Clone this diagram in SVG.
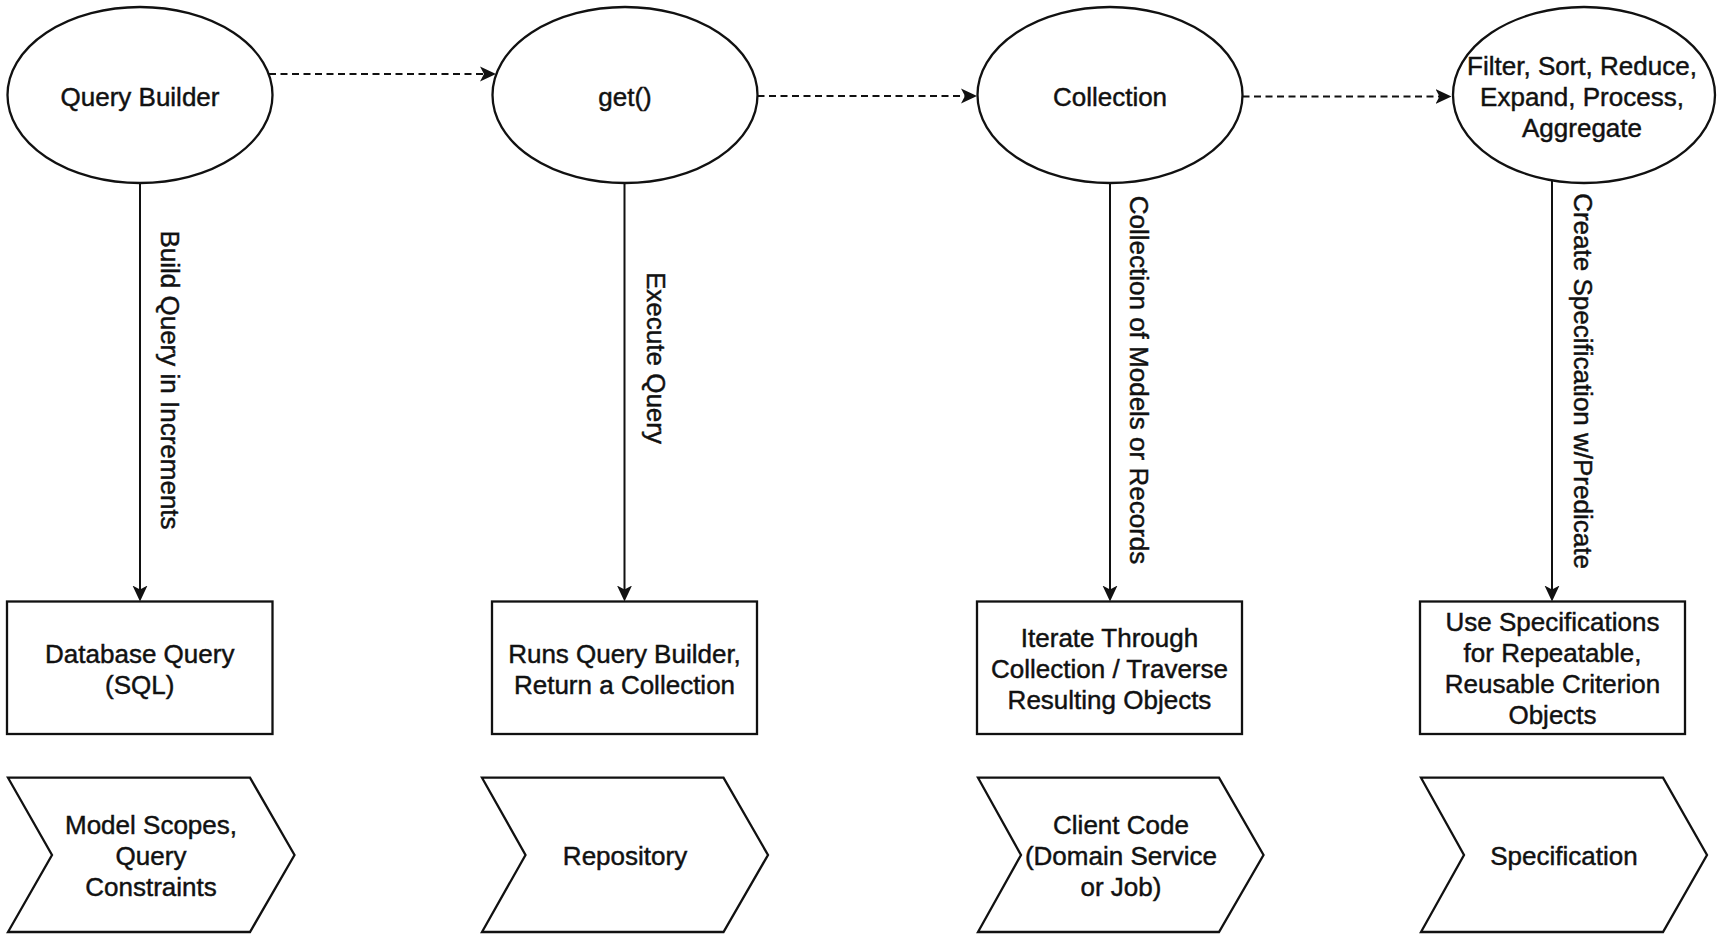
<svg xmlns="http://www.w3.org/2000/svg" width="1725" height="940" viewBox="0 0 1725 940">
<style>
.shape{fill:#fff;stroke:#111;stroke-width:2.3}
.t{font-family:"Liberation Sans",Arial,Helvetica,sans-serif;font-size:26px;fill:#111;stroke:#111;stroke-width:0.45;text-anchor:middle}
.edge{fill:none;stroke:#111;stroke-width:2}
.dash{stroke-dasharray:7 4.5}
</style>
<defs>
<marker id="arr" markerWidth="18" markerHeight="18" refX="12" refY="8" orient="auto" markerUnits="userSpaceOnUse" viewBox="0 0 18 16">
<path d="M0,0.5 L16,8 L0,15.5 L4,8 Z" fill="#111" stroke="none"/>
</marker>
</defs>
<rect width="1725" height="940" fill="#fff"/>

<g id="connectors">
<path class="edge dash" d="M269,74 H492" marker-end="url(#arr)"/>
<path class="edge dash" d="M757.5,96 H973" marker-end="url(#arr)"/>
<path class="edge dash" d="M1242.5,96.5 H1447.5" marker-end="url(#arr)"/>
<path class="edge" d="M140,183 V597.5" marker-end="url(#arr)"/>
<path class="edge" d="M624.5,183 V597.5" marker-end="url(#arr)"/>
<path class="edge" d="M1110,183 V597.5" marker-end="url(#arr)"/>
<path class="edge" d="M1552,180 V597.5" marker-end="url(#arr)"/>
<text class="t" transform="translate(161,380) rotate(90)">Build Query in Increments</text>
<text class="t" transform="translate(647,358) rotate(90)">Execute Query</text>
<text class="t" transform="translate(1129.5,380) rotate(90)">Collection of Models or Records</text>
<text class="t" transform="translate(1573.5,381) rotate(90)">Create Specification w/Predicate</text>
</g>

<g id="query-builder">
<ellipse class="shape" cx="140" cy="95" rx="132.5" ry="88"/>
<text class="t" x="140" y="106">Query Builder</text>
</g>
<g id="get">
<ellipse class="shape" cx="625" cy="95" rx="132.5" ry="88"/>
<text class="t" x="625" y="106">get()</text>
</g>
<g id="collection">
<ellipse class="shape" cx="1110" cy="95" rx="132.5" ry="88"/>
<text class="t" x="1110" y="106">Collection</text>
</g>
<g id="filter">
<ellipse class="shape" cx="1584" cy="95" rx="131" ry="88"/>
<text class="t" x="1582" y="74.5">Filter, Sort, Reduce,</text>
<text class="t" x="1582" y="105.7">Expand, Process,</text>
<text class="t" x="1582" y="136.9">Aggregate</text>
</g>

<g id="database-query">
<rect class="shape" x="7" y="601.5" width="265.5" height="132.5"/>
<text class="t" x="139.75" y="663">Database Query</text>
<text class="t" x="139.75" y="694">(SQL)</text>
</g>
<g id="runs-query-builder">
<rect class="shape" x="492" y="601.5" width="265" height="132.5"/>
<text class="t" x="624.5" y="663">Runs Query Builder,</text>
<text class="t" x="624.5" y="694">Return a Collection</text>
</g>
<g id="iterate">
<rect class="shape" x="977" y="601.5" width="265" height="132.5"/>
<text class="t" x="1109.5" y="647">Iterate Through</text>
<text class="t" x="1109.5" y="678">Collection / Traverse</text>
<text class="t" x="1109.5" y="709">Resulting Objects</text>
</g>
<g id="use-specifications">
<rect class="shape" x="1420" y="601.5" width="265" height="132.5"/>
<text class="t" x="1552.5" y="631">Use Specifications</text>
<text class="t" x="1552.5" y="662">for Repeatable,</text>
<text class="t" x="1552.5" y="693">Reusable Criterion</text>
<text class="t" x="1552.5" y="724">Objects</text>
</g>

<g id="model-scopes">
<path class="shape" d="M8,777.7 H250 L294.5,855 L250,932 H8 L52,855 Z"/>
<text class="t" x="151" y="834">Model Scopes,</text>
<text class="t" x="151" y="865">Query</text>
<text class="t" x="151" y="896">Constraints</text>
</g>
<g id="repository">
<path class="shape" d="M482,777.7 H723.5 L768,855 L723.5,932 H482 L525.5,855 Z"/>
<text class="t" x="625" y="865">Repository</text>
</g>
<g id="client-code">
<path class="shape" d="M978,777.7 H1219 L1263.5,855 L1219,932 H978 L1021,855 Z"/>
<text class="t" x="1121" y="834">Client Code</text>
<text class="t" x="1121" y="865">(Domain Service</text>
<text class="t" x="1121" y="896">or Job)</text>
</g>
<g id="specification">
<path class="shape" d="M1421,777.7 H1663 L1707,855 L1663,932 H1421 L1464,855 Z"/>
<text class="t" x="1564" y="865">Specification</text>
</g>
</svg>
